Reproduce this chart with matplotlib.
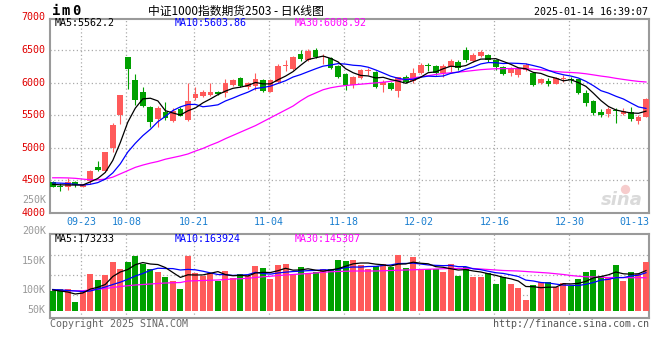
import matplotlib
matplotlib.use('Agg')
import matplotlib.pyplot as plt
import numpy as np

plt.rcParams['font.family'] = ['DejaVu Sans Mono', 'DejaVu Sans']

# date labels and their candle index
tick_labels = ['09-23', '10-08', '10-21', '11-04', '11-18', '12-02', '12-16', '12-30', '01-13']
tick_idx = [4, 10, 19, 29, 39, 49, 59, 69, 78]

opens = [4480, 4405, 4403, 4470, 4405, 4490, 4710, 4650, 4990, 5500,
         6385, 6040, 5855, 5620, 5440, 5555, 5415, 5590, 5430, 5770,
         5800, 5810, 5850, 5835, 5965, 6075, 5930, 5948, 6040, 5860,
         6015, 6260, 6210, 6440, 6347, 6500, 6390, 6372, 6255, 6130,
         5963, 6065, 6175, 6158, 5963, 5990, 5876, 6080, 6030, 6142,
         6258, 6255, 6152, 6245, 6311, 6500, 6336, 6408, 6423, 6347,
         6234, 6152, 6116, 6193, 6142, 5990, 6030, 5980, 6060, 6052,
         6055, 5845, 5718, 5554, 5518, 5572, 5518, 5544, 5415, 5477]
highs = [4490, 4460, 4540, 4490, 4450, 4660, 4800, 4940, 5380, 5815,
         6390, 6135, 5930, 5640, 5640, 5700, 5606, 5630, 5990, 5937,
         5880, 5990, 5865, 6050, 6060, 6085, 6010, 6140, 6060, 6050,
         6280, 6345, 6400, 6500, 6510, 6535, 6440, 6390, 6270, 6140,
         6105, 6205, 6220, 6180, 6040, 6010, 6090, 6115, 6220, 6300,
         6305, 6270, 6285, 6360, 6350, 6540, 6450, 6500, 6440, 6365,
         6260, 6234, 6220, 6300, 6150, 6075, 6066, 6090, 6115, 6090,
         6060, 5886, 5733, 5590, 5621, 5605, 5605, 5631, 5503, 5760]
lows = [4395, 4330, 4350, 4405, 4400, 4440, 4645, 4640, 4940, 5365,
        5900, 5655, 5620, 5325, 5325, 5425, 5400, 5480, 5415, 5735,
        5775, 5800, 5815, 5785, 5950, 5925, 5900, 5890, 5860, 5850,
        5990, 6180, 6200, 6335, 6335, 6370, 6285, 6210, 6070, 5886,
        5920, 6050, 6115, 5920, 5860, 5890, 5785, 5990, 5990, 6130,
        6185, 6120, 6080, 6165, 6190, 6320, 6320, 6390, 6320, 6200,
        6115, 6100, 6080, 6180, 5950, 5975, 5940, 5975, 6015, 6000,
        5820, 5640, 5500, 5467, 5477, 5385, 5505, 5415, 5365, 5470]
closes = [4405, 4398, 4470, 4430, 4440, 4645, 4660, 4935, 5350, 5810,
          6210, 5735, 5645, 5400, 5605, 5462, 5560, 5490, 5720, 5825,
          5850, 5860, 5822, 5990, 6040, 5940, 5990, 6050, 5878, 6040,
          6255, 6270, 6395, 6362, 6485, 6388, 6400, 6220, 6090, 5965,
          6080, 6193, 6180, 5937, 6014, 5905, 6080, 6015, 6142, 6270,
          6252, 6142, 6255, 6336, 6219, 6347, 6423, 6474, 6347, 6245,
          6132, 6204, 6209, 6270, 5963, 6060, 5980, 6066, 6068, 6047,
          5836, 5692, 5540, 5503, 5595, 5568, 5564, 5442, 5477, 5748]

ma5 = [4440, 4432, 4430, 4428, 4429, 4477, 4529, 4622, 4806, 5080,
       5393, 5608, 5750, 5760, 5719, 5569, 5534, 5503, 5567, 5611,
       5689, 5749, 5815, 5869, 5912, 5930, 5956, 6002, 5980, 5980,
       6043, 6099, 6168, 6264, 6353, 6380, 6406, 6371, 6317, 6213,
       6151, 6110, 6102, 6071, 6081, 6046, 6023, 5990, 6031, 6082,
       6152, 6164, 6212, 6251, 6241, 6260, 6316, 6360, 6362, 6367,
       6324, 6280, 6227, 6212, 6156, 6141, 6096, 6068, 6027, 6044,
       5999, 5942, 5837, 5724, 5633, 5580, 5554, 5534, 5529, 5562]
ma10 = [4462, 4458, 4452, 4440, 4428, 4440, 4466, 4520, 4615, 4754,
        4935, 5069, 5186, 5283, 5400, 5481, 5571, 5627, 5664, 5665,
        5629, 5642, 5659, 5718, 5762, 5810, 5853, 5909, 5925, 5946,
        5987, 6028, 6085, 6122, 6167, 6211, 6252, 6269, 6291, 6283,
        6266, 6258, 6236, 6194, 6147, 6098, 6066, 6046, 6051, 6082,
        6099, 6094, 6101, 6141, 6162, 6206, 6240, 6286, 6307, 6304,
        6292, 6298, 6294, 6287, 6261, 6233, 6188, 6148, 6120, 6100,
        6070, 6019, 5952, 5876, 5839, 5790, 5748, 5686, 5626, 5604]
ma30 = [4540, 4540, 4538, 4532, 4520, 4510, 4508, 4520, 4550, 4600,
        4650, 4700, 4735, 4765, 4790, 4825, 4850, 4875, 4905, 4950,
        4990, 5040, 5085, 5140, 5190, 5240, 5290, 5340, 5400, 5460,
        5520, 5580, 5640, 5720, 5790, 5840, 5890, 5920, 5940, 5955,
        5965, 5975, 5985, 5995, 6005, 6020, 6035, 6050, 6070, 6090,
        6105, 6125, 6140, 6150, 6160, 6172, 6185, 6198, 6206, 6212,
        6214, 6215, 6214, 6212, 6205, 6195, 6182, 6170, 6160, 6155,
        6148, 6135, 6118, 6100, 6085, 6065, 6048, 6032, 6018, 6009]

volume = [90600, 94000, 94000, 68600, 88600, 124000, 112000, 122000, 148600, 134000,
          148600, 160000, 143400, 134000, 128600, 118600, 110600, 94000, 160000, 126600,
          120000, 126600, 110600, 130000, 115400, 124000, 120000, 140600, 136600, 114000,
          142000, 144000, 122000, 138600, 125400, 128600, 133400, 134000, 152000, 150000,
          152000, 142000, 134000, 140600, 144000, 138600, 162000, 135400, 158000, 133400,
          133400, 133400, 128600, 144000, 120000, 138600, 118600, 118600, 126600, 104000,
          118600, 104000, 96600, 72000, 102000, 108600, 108600, 97400, 106600, 100000,
          114000, 128600, 132000, 120000, 117400, 142000, 110600, 128600, 124000, 148600]
vol_ma5 = [92, 90, 88, 84, 86, 93.8, 97.4, 103, 119, 128,
           133, 142.6, 146.9, 144, 142.9, 136.9, 127, 117.2, 122.4, 122,
           122.2, 125.4, 128.8, 122.8, 120.5, 121.3, 120, 126, 127.3, 127,
           130.6, 135.4, 131.7, 132.1, 134.4, 131.7, 129.6, 132, 134.7, 139.6,
           144.3, 146, 146, 143.7, 142.5, 139.8, 143.8, 144.1, 147.6, 145.5,
           144.4, 138.7, 137.4, 134.6, 131.9, 132.9, 130, 128, 124.5, 121.3,
           117.3, 114.4, 110, 99, 98.6, 96.6, 97.6, 97.7, 104.6, 104.2,
           105.3, 109.3, 116.2, 118.9, 122.4, 128, 124.4, 123.7, 124.5, 130.8]
vol_ma10 = [93, 92, 91, 90, 89, 90, 94, 98, 103, 107.6,
            113.4, 120, 125, 131.5, 135.5, 135, 134.8, 132, 133.2, 132.4,
            129.6, 126.2, 123, 122.6, 121.2, 121.8, 122.7, 127.4, 125, 123.8,
            126, 127.7, 128.9, 129.7, 130.7, 131.2, 132.5, 131.9, 133.4, 137,
            138, 137.8, 139, 139.2, 141.1, 142.1, 144.9, 145.1, 145.7, 144,
            142.1, 141.3, 140.7, 141.1, 138.7, 138.7, 134.3, 132.7, 129.5, 126.6,
            125.1, 122.2, 119, 111.8, 110, 107, 106, 103.8, 101.8, 101.4,
            101, 103.4, 107, 111.8, 113.3, 116.7, 116.9, 120, 121.7, 126.6]
vol_ma30 = [92, 91.5, 91, 90.5, 90.5, 92, 93.5, 95, 97, 99,
            100.5, 102, 103, 104, 105, 106, 106.5, 107, 110, 110.5,
            111, 111.5, 112, 113, 114, 114.5, 115.5, 117, 118.5, 119.5,
            121, 122, 123, 124, 125, 126, 127.5, 128.5, 129, 129.5,
            130, 130, 130, 130, 130.5, 131, 131.5, 132, 132.5, 133,
            133.5, 134, 134.5, 135, 135, 135.4, 135, 134, 133, 132,
            131, 130.5, 130, 129, 128, 127, 126, 124.5, 123, 121,
            119.5, 118.5, 118, 117.5, 117, 117, 116.8, 116.6, 116.6, 116.5]

price_ticks = [4000, 4500, 5000, 5500, 6000, 6500, 7000]

RED = '#ff5a5a'
GREEN = '#00a000'
GRID = '#aaaaaa'
FRAME = '#9a9a9a'
DOT = (0, (1, 2))

fig = plt.figure(figsize=(6.6, 3.6), dpi=100)
ax = fig.add_axes([50 / 660, 1 - 213 / 360, 599 / 660, 194 / 360])
axv = fig.add_axes([50 / 660, 1 - 318 / 360, 599 / 660, 84 / 360])

x = np.arange(len(closes))
o, c = np.array(opens), np.array(closes)
colors = np.where(c >= o, RED, GREEN)

# price panel
ax.vlines(x, lows, highs, colors=colors, lw=0.8, zorder=3)
ax.bar(x, np.maximum(np.abs(c - o), 14), bottom=np.minimum(o, c), width=0.76,
       color=colors, lw=0, zorder=4)
ax.plot(x, ma30, color='#ff00ff', lw=0.9, zorder=5)
ax.plot(x, ma10, color='#0000ff', lw=0.9, zorder=5)
ax.plot(x, ma5, color='black', lw=0.9, zorder=6)
ax.set_xlim(-0.36, 79.4)
ax.set_ylim(4000, 6975)
for v in price_ticks[1:-1]:
    ax.axhline(v, color=GRID, lw=0.9, ls=DOT, zorder=1)
for t in tick_idx[:-1]:
    ax.axvline(t - 0.2, color=GRID, lw=0.9, ls=DOT, zorder=1)
for v in price_ticks:
    ax.text(-0.007, v, str(v), transform=ax.get_yaxis_transform(), ha='right',
            va='center', color='#e00000', fontsize=7.2, clip_on=False)
ax.text(-0.007, 4195, '250K', transform=ax.get_yaxis_transform(), ha='right',
        va='center', color='#999999', fontsize=7.2)
for t, lab in zip(tick_idx, tick_labels):
    if lab == tick_labels[-1]:
        ax.text(79.4, -0.046, lab, transform=ax.get_xaxis_transform(), ha='right',
                va='center', color='#1a7fd0', fontsize=7.2)
    else:
        ax.text(t - 0.2, -0.046, lab, transform=ax.get_xaxis_transform(), ha='center',
                va='center', color='#1a7fd0', fontsize=7.2)
ax.text(0.007, 0.979, 'MA5:%.1f' % 5562.2, transform=ax.transAxes, color='black',
        fontsize=7.2, va='center')
ax.text(0.2075, 0.979, 'MA10:%.2f' % 5603.86, transform=ax.transAxes, color='#0000ff',
        fontsize=7.2, va='center')
ax.text(0.408, 0.979, 'MA30:%.2f' % 6008.92, transform=ax.transAxes, color='#ff00ff',
        fontsize=7.2, va='center')
# faint sina watermark
ax.scatter([0.96], [0.125], s=45, color='#f6cccc', lw=0, transform=ax.transAxes, zorder=0)
ax.text(0.955, 0.065, 'sina', transform=ax.transAxes, ha='center', va='center',
        color='#dadada', fontsize=13, style='italic', fontweight='bold',
        family='DejaVu Sans', zorder=0)

# volume panel
axv.bar(x, np.array(volume) - 50000, bottom=50000, width=0.8, color=colors, lw=0, zorder=3)
axv.plot(x, np.array(vol_ma30) * 1000, color='#ff00ff', lw=0.9, zorder=5)
axv.plot(x, np.array(vol_ma10) * 1000, color='#0000ff', lw=0.9, zorder=5)
axv.plot(x, np.array(vol_ma5) * 1000, color='black', lw=0.9, zorder=6)
axv.set_xlim(-0.36, 79.4)
axv.set_ylim(36000, 204000)
for v in [82000, 122000, 162000]:
    axv.axhline(v, color=GRID, lw=0.9, ls=DOT, zorder=1)
for t in tick_idx[:-1]:
    axv.axvline(t - 0.2, color=GRID, lw=0.9, ls=DOT, zorder=1)
for v, lab in [(210600, '200K'), (150000, '150K'), (92000, '100K'), (52000, '50K')]:
    axv.text(-0.007, v, lab, transform=axv.get_yaxis_transform(), ha='right',
             va='center', color='#999999', fontsize=7.2, clip_on=False)
axv.text(0.007, 0.94, 'MA5:173233', transform=axv.transAxes, color='black',
         fontsize=7.2, va='center')
axv.text(0.2075, 0.94, 'MA10:163924', transform=axv.transAxes, color='#0000ff',
         fontsize=7.2, va='center')
axv.text(0.408, 0.94, 'MA30:145307', transform=axv.transAxes, color='#ff00ff',
         fontsize=7.2, va='center')

for a in (ax, axv):
    a.set_xticks([])
    a.set_yticks([])
    for s in a.spines.values():
        s.set_color(FRAME)
        s.set_linewidth(1.5)

# header and footer
for k, ch in enumerate('im0'):
    fig.text((52 + k * 10) / 660, 1 - 11 / 360, ch, fontsize=10, fontweight='bold', va='center')
fig.text(236 / 660, 1 - 11 / 360, '中证1000指数期货2503 - 日K线图', ha='center', va='center',
         fontsize=8.5, family=['Noto Sans CJK SC', 'DejaVu Sans'])
fig.text(648 / 660, 1 - 12 / 360, '2025-01-14 16:39:07', ha='right', va='center', fontsize=7.2)
fig.text(50 / 660, 1 - 324 / 360, 'Copyright 2025 SINA.COM', va='center', fontsize=7.2,
         color='#666666')
fig.text(649 / 660, 1 - 324 / 360, 'http://finance.sina.com.cn', ha='right', va='center',
         fontsize=7.2, color='#555555')

fig.savefig('out.png', dpi=100)
